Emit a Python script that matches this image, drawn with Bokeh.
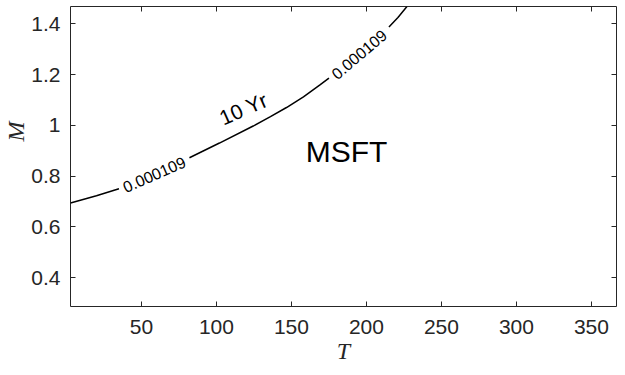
import numpy as np
from bokeh.plotting import figure
from bokeh.models import (Range1d, LinearAxis, FixedTicker, CustomJSTickFormatter,
                          Label, Title)
from bokeh.embed import file_html
from bokeh.resources import INLINE

# ---- data ----
T_curve = [2.7, 20, 35, 50, 65, 82, 102, 124.5, 136, 146.7, 158, 169, 175,
           185, 195, 205, 215, 221, 227]
M_curve = [0.694, 0.722, 0.750, 0.785, 0.824, 0.872, 0.930, 0.997, 1.034, 1.070,
           1.112, 1.159, 1.186, 1.232, 1.280, 1.331, 1.387, 1.425, 1.468]
level_label = "0.000109"
label_gaps = [(35, 82), (175, 215)]
x_ticks = [50, 100, 150, 200, 250, 300, 350]
y_ticks = [0.4, 0.6, 0.8, 1.0, 1.2, 1.4]
curve_name = "10 Yr"
curve_name_pos = (118, 1.065)
stock_name = "MSFT"
stock_name_pos = (186.7, 0.895)
x_title = "T"
y_title = "M"

X_RANGE = (2.7, 366.7)
Y_RANGE = (0.286, 1.468)
FRAME_W, FRAME_H = 546, 300
AX_COLOR = "#262626"
SANS = "Liberation Sans"
SERIF = "Liberation Serif"

p = figure(frame_width=FRAME_W, frame_height=FRAME_H,
           x_range=Range1d(*X_RANGE), y_range=Range1d(*Y_RANGE),
           x_axis_type=None, y_axis_type=None,
           output_backend="svg", toolbar_location=None,
           min_border_left=69, min_border_right=10, min_border_top=6, min_border_bottom=69)
p.grid.visible = False
p.outline_line_color = AX_COLOR
p.outline_line_width = 1
p.background_fill_color = "white"
p.border_fill_color = "white"

fmt = CustomJSTickFormatter(code="return String(Math.round(tick*10)/10);")
blank = CustomJSTickFormatter(code="return '';")


def make_axis(ticks, show_labels, standoff):
    ax = LinearAxis(ticker=FixedTicker(ticks=ticks), formatter=fmt if show_labels else blank)
    ax.major_tick_in = 5
    ax.major_tick_out = 0
    ax.minor_tick_line_color = None
    ax.major_tick_line_color = AX_COLOR
    ax.axis_line_color = None
    ax.major_label_standoff = standoff
    ax.major_label_text_font = SANS
    ax.major_label_text_font_size = "21px"
    ax.major_label_text_color = AX_COLOR
    return ax


xax = make_axis(x_ticks, True, 13)
xax.axis_label = x_title
xax.axis_label_text_font = SERIF
xax.axis_label_text_font_style = "italic"
xax.axis_label_text_font_size = "24px"
xax.axis_label_text_color = AX_COLOR
xax.axis_label_standoff = 1
p.add_layout(xax, "below")
p.add_layout(make_axis(y_ticks, True, 10), "left")
p.add_layout(make_axis(x_ticks, False, 0), "above")
p.add_layout(make_axis(y_ticks, False, 0), "right")
p.add_layout(Title(text=y_title, align="right", offset=115, standoff=0,
                   text_font=SERIF, text_font_style="italic", text_font_size="24px",
                   text_color=AX_COLOR), "left")

# ---- contour line with gaps for inline labels ----
T = np.array(T_curve, dtype=float)
M = np.array(M_curve, dtype=float)
M_draw = M.copy()
for a, b in label_gaps:
    M_draw[(T > a) & (T < b)] = np.nan
p.line(T, M_draw, line_color="black", line_width=1.5)

sx = FRAME_W / (X_RANGE[1] - X_RANGE[0])
sy = FRAME_H / (Y_RANGE[1] - Y_RANGE[0])
for a, b in label_gaps:
    ma, mb = np.interp(a, T, M), np.interp(b, T, M)
    tc = 0.5 * (a + b)
    mc = np.interp(tc, T, M)
    ang = float(np.arctan2((mb - ma) * sy, (b - a) * sx))
    p.add_layout(Label(x=tc, y=float(mc), text=level_label, angle=ang,
                       text_align="center", text_baseline="middle",
                       text_font=SANS, text_font_size="16px", text_color="black"))

p.add_layout(Label(x=curve_name_pos[0], y=curve_name_pos[1], text=curve_name,
                   angle=np.deg2rad(24), text_align="center", text_baseline="middle",
                   text_font=SANS, text_font_size="21px", text_color="black"))
p.add_layout(Label(x=stock_name_pos[0], y=stock_name_pos[1], text=stock_name,
                   text_align="center", text_baseline="middle",
                   text_font=SANS, text_font_size="30px", text_color="black"))

open("out.html", "w").write(file_html(p, INLINE))
